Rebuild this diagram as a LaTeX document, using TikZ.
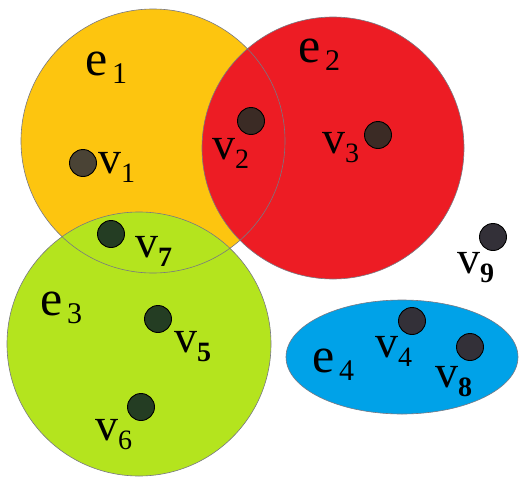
\documentclass[tikz,border=0pt]{standalone}
\usepackage{fontspec}
\setmainfont{Liberation Serif}
\definecolor{eorange}{RGB}{253,197,15}
\definecolor{ered}{RGB}{237,28,36}
\definecolor{egreen}{RGB}{180,228,30}
\definecolor{eblue}{RGB}{0,162,232}
\definecolor{dotolive}{RGB}{74,67,53}
\definecolor{dotbrown}{RGB}{59,43,37}
\definecolor{dotgreen}{RGB}{36,61,35}
\definecolor{dotgray}{RGB}{51,48,56}
\definecolor{edgeline}{RGB}{120,120,130}
\newcommand{\vlab}[1]{{\fontsize{46}{46}\selectfont v}\raisebox{-9pt}{\fontsize{28}{28}\selectfont #1}}
\newcommand{\elab}[1]{{\fontsize{50}{50}\selectfont e}\hspace{5pt}\raisebox{-8pt}{\fontsize{30}{30}\selectfont #1}}
\tikzset{
  vertex/.style={circle, draw=black, line width=0.9pt, minimum size=27pt, inner sep=0pt},
  lab/.style={anchor=base west, inner sep=0pt, outer sep=0pt},
  rim/.style={draw=edgeline, line width=0.6pt}
}
\begin{document}
\begin{tikzpicture}[x=1pt,y=-1pt]
\useasboundingbox (0,0) rectangle (519,479);
% hyperedge fills
\fill[eorange] (153,141) circle (132);
\fill[ered] (333,148) circle (131);
\fill[egreen] (139,344) circle (132);
\fill[eblue] (402,357) ellipse [x radius=116, y radius=57];
% rims
\draw[rim] (153,141) circle (132);
\draw[rim] (333,148) circle (131);
\draw[rim] (139,344) circle (132);
\draw[rim] (402,357) ellipse [x radius=116, y radius=57];
% hyperedge labels
\node[lab] (le1) at (85,75) {\elab{1}};
\node[lab] (le2) at (298,62) {\elab{2}};
\node[lab] (le3) at (40,315) {\elab{3}};
\node[lab] (le4) at (312,372) {\elab{4}};
% vertices
\node[vertex, fill=dotolive] (v1) at (83,163) {};
\node[vertex, fill=dotbrown] (v2) at (251,121) {};
\node[vertex, fill=dotbrown] (v3) at (378,135) {};
\node[vertex, fill=dotgray] (v4) at (412,321) {};
\node[vertex, fill=dotgreen] (v5) at (158,319) {};
\node[vertex, fill=dotgreen] (v6) at (141,407) {};
\node[vertex, fill=dotgreen] (v7) at (111,234) {};
\node[vertex, fill=dotgray] (v8) at (470,347) {};
\node[vertex, fill=dotgray] (v9) at (493,237) {};
% vertex labels
\node[lab] (lv1) at (98,173) {\vlab{1}};
\node[lab] (lv2) at (212,159) {\vlab{2}};
\node[lab] (lv3) at (322,153) {\vlab{3}};
\node[lab] (lv4) at (375,357) {\vlab{4}};
\node[lab] (lv5) at (174,352) {\vlab{\bfseries 5}};
\node[lab] (lv6) at (95,440) {\vlab{6}};
\node[lab] (lv7) at (135,257) {\vlab{\bfseries 7}};
\node[lab] (lv8) at (435,387) {\vlab{\bfseries 8}};
\node[lab] (lv9) at (457,273) {\vlab{\bfseries 9}};
\end{tikzpicture}
\end{document}
